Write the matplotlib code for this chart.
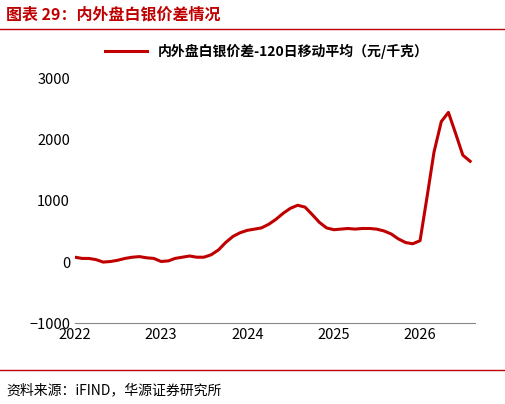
import matplotlib
matplotlib.use("Agg")
import matplotlib.pyplot as plt
import pandas as pd

plt.rcParams['font.family'] = ['Noto Sans CJK SC', 'DejaVu Sans']

dates = pd.date_range("2022-01-01", "2026-08-01", freq="MS")
values = [80, 60, 60, 40, 0, 10, 30, 60, 80, 90, 70, 60,
          10, 20, 60, 80, 100, 80, 80, 120, 200, 320, 420, 480,
          520, 540, 560, 620, 700, 800, 880, 930, 900, 780, 650, 560,
          530, 540, 550, 540, 550, 550, 540, 510, 460, 380, 320, 300,
          350, 1100, 1800, 2300, 2450, 2100, 1750, 1650]
label = "内外盘白银价差-120日移动平均（元/千克）"
title = "图表 29：内外盘白银价差情况"
source = "资料来源：iFIND，华源证券研究所"
red = "#C00000"

fig = plt.figure(figsize=(5.06, 4.04), dpi=100)
ax = fig.add_axes([0.148, 0.2, 0.79, 0.605])
ax.plot(dates, values, color=red, lw=2.2, label=label)
ax.set_ylim(-1000, 3000)
ax.set_yticks(range(-1000, 3001, 1000))
ax.set_xlim(pd.Timestamp("2022-01-01"), pd.Timestamp("2026-08-20"))
ax.set_xticks([pd.Timestamp(f"{y}-01-01") for y in range(2022, 2027)])
ax.set_xticklabels([str(y) for y in range(2022, 2027)])
for s in ["top", "right", "left"]:
    ax.spines[s].set_visible(False)
ax.spines["bottom"].set_color("#888888")
ax.tick_params(length=0, labelsize=10.5)
ax.legend(loc="lower center", bbox_to_anchor=(0.48, 1.03), frameon=False,
          prop={'weight': 'bold', 'size': 10}, handlelength=3)
fig.text(0.012, 0.952, title, color=red, fontsize=11.5, weight='bold')
fig.add_artist(plt.Line2D([0.0, 1.0], [0.928, 0.928], color=red, lw=1))
fig.add_artist(plt.Line2D([0.0, 1.0], [0.085, 0.085], color=red, lw=1))
fig.text(0.012, 0.025, source, fontsize=10)
fig.savefig("out.png", dpi=100)
